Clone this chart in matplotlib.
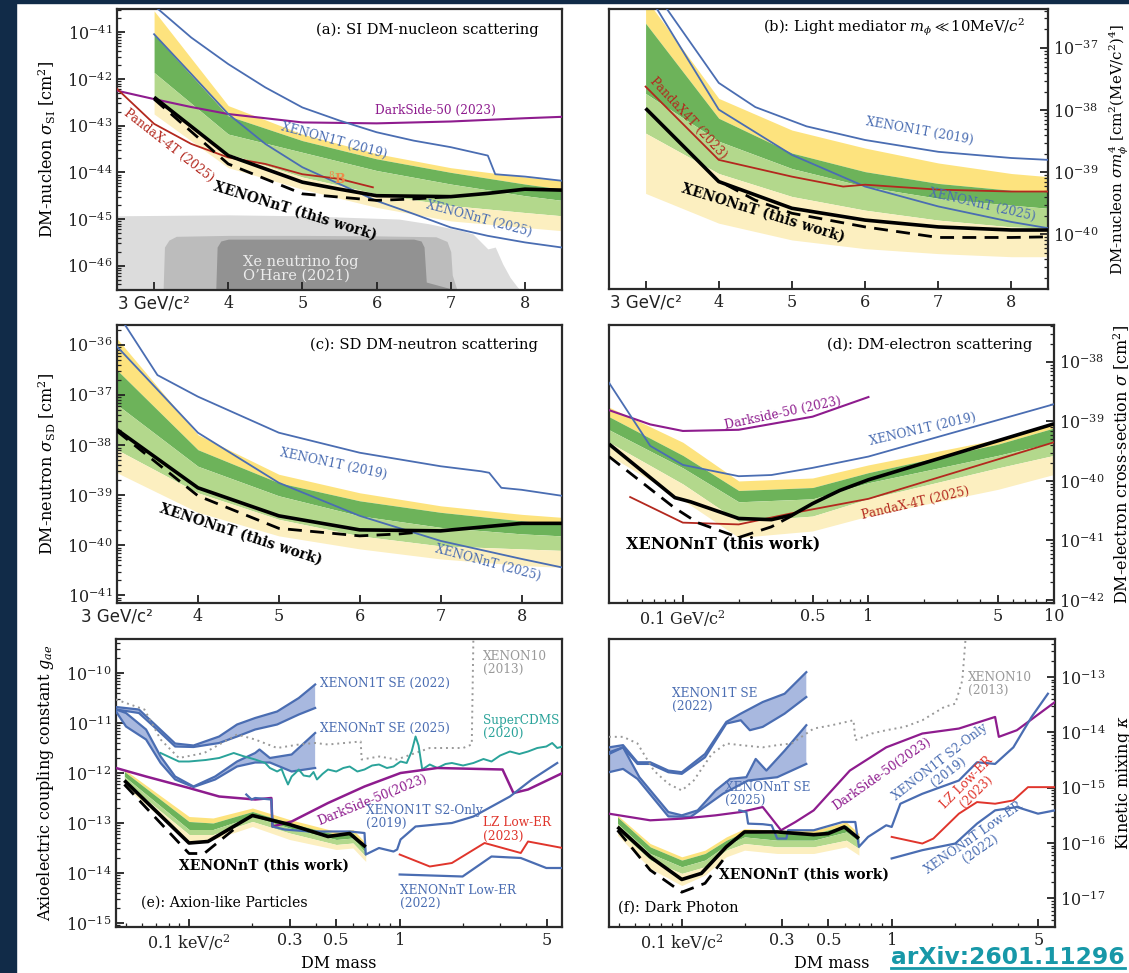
import numpy as np
import matplotlib
matplotlib.use("Agg")
import matplotlib.pyplot as plt
from matplotlib.patches import Rectangle
from matplotlib.lines import Line2D
from matplotlib.ticker import LogLocator, FixedLocator, FixedFormatter, NullFormatter, NullLocator

plt.rcParams['font.family'] = 'DejaVu Serif'
plt.rcParams['mathtext.fontset'] = 'dejavuserif'

# ======================= DATA (y values are log10) =======================
# ---- (a) SI DM-nucleon scattering, mass in GeV/c^2, log10 sigma [cm^2]
a_band_mass = [3, 4, 5, 6, 7, 8, 8.5]
a_p2 = [-40.54, -42.57, -43.18, -43.60, -43.90, -44.10, -44.18]
a_p1 = [-41.05, -42.79, -43.32, -43.71, -44.00, -44.25, -44.36]
a_med = [-41.86, -43.18, -43.57, -43.96, -44.25, -44.50, -44.60]
a_m1 = [-42.46, -43.60, -44.10, -44.46, -44.71, -44.86, -44.93]
a_m2 = [-42.75, -43.90, -44.36, -44.75, -45.04, -45.18, -45.25]
a_nt_mass = [3, 4, 5, 5.5, 6, 7, 7.5, 8, 8.5]
a_nt_limit = [-42.39, -43.64, -44.21, -44.36, -44.50, -44.52, -44.45, -44.36, -44.38]
a_sens_mass = [3, 4, 5, 6, 6.5, 7]
a_sens = [-42.43, -43.82, -44.46, -44.60, -44.57, -44.52]
a_x1t_mass = [2.98, 3.5, 4, 4.5, 5, 5.5, 6, 6.5, 7, 7.5, 7.6, 8, 8.5]
a_x1t = [-40.4, -41.11, -41.68, -42.18, -42.61, -42.89, -43.14, -43.32, -43.46, -43.64, -44.04, -44.09, -44.18]
a_xnt25_mass = [3, 3.5, 4, 4.5, 5, 5.5, 6, 6.5, 7, 7.5, 8, 8.5]
a_xnt25 = [-41.04, -41.89, -42.75, -43.39, -43.89, -44.25, -44.61, -44.89, -45.18, -45.36, -45.50, -45.61]
a_ds50_mass = [2.5, 3, 3.5, 4, 5, 6, 7, 8, 8.5]
a_ds50 = [-42.25, -42.43, -42.60, -42.75, -42.93, -42.95, -42.91, -42.84, -42.81]
a_px4t_mass = [2.5, 3, 3.5, 4, 4.5, 5, 5.5, 5.95]
a_px4t = [-42.21, -42.96, -43.39, -43.68, -43.82, -44.04, -44.14, -44.32]
a_fog1_mass = [2.5, 4, 5, 6.3, 6.7, 7.15, 7.3, 7.5, 7.6, 7.7, 7.8, 7.9, 8.0]
a_fog1 = [-44.93, -44.91, -44.93, -45.0, -45.1, -45.25, -45.32, -45.64, -45.6, -45.96, -46.25, -46.46, -46.6]
a_fog2_mass = [3.12, 3.14, 3.2, 3.3, 4, 5, 6, 6.8, 6.95, 7.0, 7.02, 7.1]
a_fog2 = [-46.6, -45.6, -45.45, -45.37, -45.35, -45.35, -45.36, -45.38, -45.48, -45.7, -46.2, -46.6]
a_fog3_mass = [3.83, 3.85, 3.9, 4.0, 6.5, 6.6, 6.64, 6.67, 7.25]
a_fog3 = [-46.6, -45.6, -45.47, -45.43, -45.43, -45.47, -45.6, -46.35, -46.6]

# ---- (b) light mediator
b_band_mass = [3, 4, 5, 6, 7, 8, 8.5]
b_p2 = [-36.2, -37.81, -38.32, -38.61, -38.85, -39.02, -39.07]
b_p1 = [-36.6, -38.13, -38.69, -38.99, -39.18, -39.29, -39.31]
b_med = [-37.73, -38.50, -38.94, -39.23, -39.42, -39.53, -39.58]
b_m1 = [-38.37, -39.02, -39.39, -39.61, -39.77, -39.88, -39.90]
b_m2 = [-39.34, -39.82, -40.09, -40.23, -40.31, -40.36, -40.36]
b_nt_mass = [3, 4, 5, 6, 7, 8, 8.5]
b_nt_limit = [-37.97, -39.15, -39.58, -39.77, -39.88, -39.93, -39.93]
b_sens_mass = [4.1, 4.5, 5, 6, 7, 8, 8.5]
b_sens = [-39.2, -39.45, -39.66, -39.88, -40.05, -40.05, -40.04]
b_x1t_mass = [3.25, 4, 4.5, 5.2, 6, 7, 8, 8.5]
b_x1t = [-36.3, -37.56, -37.95, -38.26, -38.48, -38.67, -38.77, -38.80]
b_xnt25_mass = [3.12, 4, 5, 6, 7, 8, 8.5]
b_xnt25 = [-36.3, -37.99, -38.72, -39.23, -39.55, -39.80, -39.90]
b_px4t_mass = [3, 4, 5, 5.7, 6, 7, 8, 8.5]
b_px4t = [-37.62, -38.80, -39.07, -39.23, -39.20, -39.28, -39.31, -39.31]

# ---- (c) SD DM-neutron
c_band_mass = [3, 4, 5, 6, 7, 8, 8.5]
c_p2 = [-35.87, -37.79, -38.58, -38.95, -39.21, -39.38, -39.44]
c_p1 = [-36.50, -38.09, -38.75, -39.11, -39.34, -39.51, -39.58]
c_med = [-37.19, -38.42, -39.01, -39.41, -39.64, -39.77, -39.81]
c_m1 = [-38.09, -38.95, -39.48, -39.81, -40.01, -40.07, -40.10]
c_m2 = [-38.55, -39.34, -39.81, -40.07, -40.27, -40.40, -40.44]
c_nt_mass = [3, 4, 5, 6, 7, 8, 8.5]
c_nt_limit = [-37.69, -38.85, -39.41, -39.69, -39.71, -39.56, -39.56]
c_sens_mass = [3, 4, 5, 6, 6.5, 6.7]
c_sens = [-37.72, -39.01, -39.66, -39.81, -39.77, -39.74]
c_x1t_mass = [3.1, 3.5, 4, 5, 6, 7, 7.5, 7.6, 7.75, 8, 8.5]
c_x1t = [-35.6, -36.6, -37.03, -37.75, -38.15, -38.42, -38.52, -38.55, -38.85, -38.89, -39.01]
c_xnt25_mass = [3, 3.5, 4, 5, 6, 7, 8, 8.5]
c_xnt25 = [-36.03, -36.89, -37.75, -38.75, -39.41, -39.91, -40.27, -40.44]

# ---- (d) DM-electron scattering
d_band_mass = [0.04, 0.1, 0.2, 0.5, 1, 5, 10]
d_p2 = [-38.76, -39.35, -40.00, -39.95, -39.73, -39.30, -39.03]
d_p1 = [-38.92, -39.57, -40.16, -40.11, -39.86, -39.38, -39.11]
d_med = [-39.14, -39.78, -40.35, -40.30, -40.03, -39.57, -39.35]
d_m1 = [-39.35, -40.05, -40.68, -40.59, -40.30, -39.78, -39.57]
d_m2 = [-39.57, -40.32, -40.95, -40.84, -40.59, -40.14, -39.89]
d_nt_mass = [0.04, 0.0906, 0.11, 0.2, 0.3, 0.39, 0.5, 0.7, 1, 10]
d_nt_limit = [-39.38, -40.28, -40.35, -40.63, -40.65, -40.57, -40.38, -40.16, -39.98, -39.04]
d_sens_mass = [0.04, 0.09, 0.12, 0.2, 0.3, 0.39]
d_sens = [-39.59, -40.45, -40.70, -40.95, -40.77, -40.58]
d_x1t_mass = [0.04, 0.0667, 0.1, 0.2, 0.3, 0.5, 1, 10]
d_x1t = [-38.35, -39.41, -39.73, -39.92, -39.90, -39.78, -39.59, -38.71]
d_ds50_mass = [0.04, 0.0667, 0.1, 0.2, 0.5, 1]
d_ds50 = [-38.81, -39.05, -39.16, -39.14, -38.92, -38.59]
d_px4t_mass = [0.052, 0.1, 0.2, 0.39, 1, 10]
d_px4t = [-40.27, -40.70, -40.73, -40.54, -40.30, -39.35]

# ---- (e) axion-like particles, mass in keV/c^2, log10 g_ae
e_band_mass = [0.0493, 0.1, 0.13, 0.2, 0.3, 0.5, 0.6, 0.69]
e_p2 = [-11.93, -12.87, -12.90, -12.70, -12.93, -13.17, -13.13, -13.40]
e_p1 = [-11.97, -12.97, -13.00, -12.77, -13.00, -13.23, -13.20, -13.50]
e_med = [-12.07, -13.13, -13.13, -12.87, -13.10, -13.33, -13.30, -13.60]
e_m1 = [-12.17, -13.23, -13.23, -12.97, -13.20, -13.43, -13.40, -13.67]
e_m2 = [-12.27, -13.37, -13.33, -13.07, -13.33, -13.53, -13.50, -13.77]
e_nt_mass = [0.0493, 0.1, 0.123, 0.2, 0.3, 0.457, 0.579, 0.69]
e_nt_limit = [-12.15, -13.40, -13.37, -12.85, -13.03, -13.27, -13.21, -13.48]
e_sens_mass = [0.0493, 0.1, 0.118, 0.163]
e_sens = [-12.23, -13.61, -13.61, -13.13]
e_se1t_mass = [0.045, 0.0578, 0.0705, 0.0859, 0.105, 0.139, 0.169, 0.206, 0.262, 0.332, 0.397]
e_se1t_hi = [-10.68, -10.73, -11.07, -11.41, -11.45, -11.27, -11.03, -10.90, -10.77, -10.50, -10.23]
e_se1t_lo = [-10.73, -10.80, -11.13, -11.47, -11.48, -11.40, -11.27, -11.13, -11.03, -10.83, -10.70]
e_sent_hi_mass = [0.045, 0.0502, 0.0625, 0.0733, 0.0859, 0.105, 0.133, 0.169, 0.206, 0.216, 0.242, 0.307, 0.397]
e_sent_hi = [-10.73, -10.80, -11.13, -11.67, -12.07, -12.27, -12.07, -11.77, -11.60, -11.53, -11.70, -11.63, -11.20]
e_sent_lo_mass = [0.045, 0.0502, 0.0625, 0.0733, 0.0859, 0.105, 0.133, 0.169, 0.206, 0.242, 0.307, 0.397]
e_sent_lo = [-10.77, -11.07, -11.33, -11.80, -12.13, -12.28, -12.13, -11.87, -11.79, -11.79, -11.97, -11.90]
e_xe10_mass = [0.045, 0.0614, 0.0733, 0.0895, 0.118, 0.169, 0.206, 0.262, 0.332, 0.397, 0.457, 0.653, 0.66, 0.8, 0.97, 1.39, 2.0, 2.2, 2.24]
e_xe10 = [-10.53, -10.73, -11.33, -11.70, -11.60, -11.23, -11.33, -11.50, -11.43, -11.40, -11.43, -11.37, -11.73, -11.67, -11.73, -11.50, -11.50, -11.43, -9.27]
e_cdms_mass = [0.0733, 0.0895, 0.1, 0.12, 0.139, 0.163, 0.18, 0.206, 0.23, 0.242, 0.262, 0.275, 0.284, 0.295, 0.307, 0.32, 0.332, 0.35, 0.374, 0.39, 0.405, 0.43, 0.457, 0.5, 0.54, 0.579, 0.63, 0.681, 0.74, 0.798, 0.87, 0.935, 1.01, 1.08, 1.14, 1.19, 1.23, 1.28, 1.39, 1.51, 1.65, 1.77, 2.0, 2.24, 2.5, 2.73, 3.0, 3.34, 3.7, 4.07, 4.5, 4.97, 5.3, 5.6, 5.94]
e_cdms = [-11.60, -11.77, -11.77, -11.74, -11.70, -11.60, -11.66, -11.73, -11.80, -11.90, -11.97, -11.92, -12.07, -12.23, -12.07, -12.00, -11.93, -12.05, -12.07, -11.98, -12.13, -12.02, -11.93, -11.97, -11.90, -11.87, -11.97, -11.93, -11.85, -11.83, -11.90, -11.87, -11.77, -11.80, -11.57, -11.27, -11.45, -11.93, -11.83, -11.90, -11.82, -11.80, -11.85, -11.80, -11.72, -11.77, -11.65, -11.57, -11.62, -11.57, -11.50, -11.47, -11.40, -11.50, -11.47]
e_ds50_mass = [0.045, 0.0625, 0.1, 0.139, 0.206, 0.246, 0.249, 0.307, 0.457, 0.681, 1.01, 1.51, 3.08, 3.47, 4.07, 5.94]
e_ds50 = [-11.90, -12.07, -12.30, -12.47, -12.53, -12.50, -13.07, -12.97, -12.60, -12.27, -12.00, -11.90, -11.93, -12.40, -12.33, -12.00]
e_s2_mass = [0.187, 0.198, 0.206, 0.246, 0.249, 0.284, 0.374, 0.579, 0.681, 0.69, 0.798, 0.935, 0.973, 1.01, 1.19, 1.77, 2.24, 3.34, 4.24, 5.6]
e_s2 = [-12.43, -12.53, -12.50, -12.53, -13.07, -13.13, -13.17, -13.17, -13.20, -13.63, -13.50, -13.57, -13.53, -13.33, -13.07, -13.00, -12.87, -12.47, -12.13, -11.80]
e_lz_mass = [1.0, 1.39, 1.77, 2.53, 3.76, 4.07, 5.94]
e_lz = [-13.63, -13.87, -13.80, -13.40, -13.60, -13.37, -13.50]
e_lower_mass = [1.0, 1.99, 2.73, 3.76, 4.97, 5.94]
e_lower = [-14.03, -14.07, -13.67, -13.70, -13.90, -13.90]

# ---- (f) dark photon, mass in keV/c^2, log10 kappa
f_band_mass = [0.0494, 0.0707, 0.1, 0.129, 0.163, 0.199, 0.285, 0.425, 0.608, 0.698]
f_p2 = [-15.50, -16.01, -16.25, -16.13, -15.89, -15.74, -15.77, -15.77, -15.62, -15.83]
f_p1 = [-15.53, -16.07, -16.31, -16.19, -15.95, -15.80, -15.83, -15.83, -15.68, -15.89]
f_med = [-15.65, -16.19, -16.43, -16.31, -16.04, -15.89, -15.95, -15.95, -15.80, -15.98]
f_m1 = [-15.77, -16.31, -16.55, -16.43, -16.13, -16.01, -16.07, -16.07, -15.95, -16.10]
f_m2 = [-15.86, -16.46, -16.77, -16.58, -16.25, -16.13, -16.19, -16.19, -16.07, -16.22]
f_nt_mass = [0.0494, 0.0707, 0.1, 0.124, 0.163, 0.199, 0.285, 0.425, 0.498, 0.595, 0.698]
f_nt_limit = [-15.71, -16.25, -16.66, -16.55, -16.07, -15.80, -15.80, -15.85, -15.83, -15.71, -15.92]
f_sens_mass = [0.0494, 0.0707, 0.1, 0.129, 0.157]
f_sens = [-15.77, -16.49, -16.89, -16.73, -16.31]
f_se1t_hi_mass = [0.045, 0.0525, 0.0615, 0.0707, 0.0863, 0.1, 0.129, 0.163, 0.191, 0.243, 0.309, 0.392]
f_se1t_hi = [-14.27, -14.23, -14.54, -14.54, -14.69, -14.72, -14.39, -13.81, -13.66, -13.45, -13.30, -12.91]
f_se1t_lo_mass = [0.045, 0.0525, 0.0615, 0.0707, 0.0863, 0.1, 0.129, 0.163, 0.191, 0.211, 0.243, 0.309, 0.392]
f_se1t_lo = [-14.39, -14.27, -14.57, -14.57, -14.72, -14.75, -14.45, -13.84, -13.78, -13.96, -13.90, -13.66, -13.36]
f_sent_hi_mass = [0.045, 0.0525, 0.0628, 0.0863, 0.1, 0.119, 0.145, 0.17, 0.203, 0.225, 0.253, 0.309, 0.392]
f_sent_hi = [-14.36, -14.27, -14.81, -15.44, -15.50, -15.41, -15.05, -14.84, -14.81, -14.48, -14.69, -14.33, -13.87]
f_sent_lo_mass = [0.045, 0.0525, 0.0615, 0.0863, 0.11, 0.157, 0.207, 0.285, 0.392]
f_sent_lo = [-14.72, -14.66, -14.84, -15.52, -15.53, -15.11, -14.87, -14.81, -14.57]
f_xe10_mass = [0.045, 0.0525, 0.0615, 0.0736, 0.0863, 0.1, 0.114, 0.139, 0.163, 0.191, 0.243, 0.285, 0.334, 0.425, 0.518, 0.658, 0.671, 0.804, 0.942, 1.15, 1.40, 1.78, 2.01, 2.17, 2.26]
f_xe10 = [-14.08, -14.08, -14.20, -14.69, -14.93, -15.05, -14.87, -14.39, -14.20, -14.23, -14.27, -14.23, -14.20, -13.93, -13.87, -13.78, -14.14, -14.02, -13.96, -13.90, -13.78, -13.54, -13.48, -13.06, -12.20]
f_ds50_mass = [0.045, 0.0707, 0.1, 0.145, 0.191, 0.243, 0.297, 0.348, 0.425, 0.632, 0.942, 1.40, 2.09, 3.11, 3.24, 3.95, 6.0]
f_ds50 = [-15.47, -15.59, -15.56, -15.50, -15.44, -15.35, -15.77, -15.62, -15.41, -14.69, -14.27, -14.02, -13.93, -13.72, -14.08, -13.96, -13.45]
f_s2_mass = [0.188, 0.203, 0.207, 0.243, 0.268, 0.285, 0.315, 0.321, 0.425, 0.584, 0.671, 0.698, 0.772, 0.942, 1.0, 1.10, 1.40, 2.09, 2.55, 3.11, 3.80, 4.64, 5.55]
f_s2 = [-15.41, -15.44, -15.65, -15.66, -15.68, -15.92, -15.92, -15.77, -15.77, -15.62, -15.62, -16.07, -15.89, -15.68, -15.71, -15.29, -15.11, -14.87, -14.54, -14.57, -14.27, -13.72, -13.30]
f_lz_mass = [1.0, 1.40, 1.58, 2.09, 2.55, 3.11, 3.80, 4.46, 6.0]
f_lz = [-15.89, -16.01, -15.92, -15.47, -15.26, -15.29, -15.23, -14.99, -14.99]
f_lower_mass = [1.0, 1.40, 2.01, 2.55, 3.11, 3.95, 4.98, 6.0]
f_lower = [-16.28, -16.13, -16.01, -15.65, -15.41, -15.35, -15.47, -15.41]

# ======================= STYLE =======================
YEL, DGRN, LGRN, PYEL = '#fde37e', '#6db35a', '#b3d88c', '#fcefc0'
BLUE, PURPLE, PRED, LZRED = '#4a6db2', '#8e1c8e', '#b3281e', '#e0352c'
TEAL, XE10C, SEFILL = '#2aa39a', '#999999', '#a8b8df'
SPINE = '#2a2a2a'
TICK_FS, YL, TITLE_FS, LAB_FS, BOLD_FS = 11.5, 11.5, 10.6, 8.7, 10.0

W, H = 1129, 973
fig = plt.figure(figsize=(W / 100, H / 100), dpi=100)
fig.patches.append(Rectangle((0, 0), 16 / W, 1, transform=fig.transFigure, color='#112b48', zorder=-5))
fig.patches.append(Rectangle((0, 1 - 3 / H), 1, 3 / H, transform=fig.transFigure, color='#112b48', zorder=-5))


def P(a):
    return 10.0 ** np.asarray(a, dtype=float)


def add_ax(l, r, t, b):
    return fig.add_axes([l / W, 1 - b / H, (r - l) / W, (b - t) / H])


def style(ax, right=False):
    for s in ax.spines.values():
        s.set_linewidth(1.6)
        s.set_color(SPINE)
    ax.set_yscale('log')
    ax.tick_params(which='both', direction='in', labelsize=TICK_FS, colors='#222222')
    ax.tick_params(which='major', length=6, width=1.3)
    ax.tick_params(which='minor', length=3, width=0.9)
    ax.yaxis.set_major_locator(LogLocator(base=10, numticks=40))
    ax.yaxis.set_minor_locator(LogLocator(base=10, subs=np.arange(2, 10), numticks=40))
    ax.yaxis.set_minor_formatter(NullFormatter())
    if right:
        ax.yaxis.tick_right()
        ax.yaxis.set_label_position('right')


def gev_axis(ax, left_lim):
    ax.set_xlim(left_lim, 8.5)
    ax.set_xticks([3, 4, 5, 6, 7, 8])
    labs = ax.set_xticklabels(['3 GeV/c²', '4', '5', '6', '7', '8'])
    labs[0].set_fontfamily('DejaVu Sans')
    labs[0].set_fontsize(12)
    ax.xaxis.set_minor_locator(NullLocator())


def log_xaxis(ax, lim, majors, labels, minors):
    ax.set_xscale('log')
    ax.set_xlim(*lim)
    ax.xaxis.set_major_locator(FixedLocator(majors))
    ax.xaxis.set_major_formatter(FixedFormatter(labels))
    ax.xaxis.set_minor_locator(FixedLocator(minors))
    ax.xaxis.set_minor_formatter(NullFormatter())


def bands(ax, x, p2, p1, med, m1, m2):
    ax.fill_between(x, P(p1), P(p2), color=YEL, lw=0, zorder=1)
    ax.fill_between(x, P(med), P(p1), color=DGRN, lw=0, zorder=1)
    ax.fill_between(x, P(m1), P(med), color=LGRN, lw=0, zorder=1)
    ax.fill_between(x, P(m2), P(m1), color=PYEL, lw=0, zorder=1)


def result(ax, xm, y, xs, ys):
    ax.plot(xm, P(y), color='black', lw=2.6, zorder=5, solid_capstyle='butt')
    ax.plot(xs, P(ys), color='black', lw=2.0, ls=(0, (5, 3)), zorder=5)


def rtext(ax, x, y, s, rot, color, size=LAB_FS, bold=False, ha='center'):
    ax.text(x, P(y), s, rotation=rot, color=color, fontsize=size, ha=ha, va='center',
            rotation_mode='anchor', fontweight='bold' if bold else 'normal', zorder=8,
            linespacing=1.0)


def band_fill(ax, xh, yh, xl, yl, color=BLUE, lw=1.6):
    xs = list(xh) + list(xl)[::-1]
    ys = list(P(yh)) + list(P(yl))[::-1]
    ax.fill(xs, ys, color=SEFILL, lw=0, zorder=2)
    ax.plot(xh, P(yh), color=color, lw=lw, zorder=3)
    ax.plot(xl, P(yl), color=color, lw=lw, zorder=3)


# ======================= (a) =======================
axA = add_ax(117, 562, 9, 290)
style(axA)
gev_axis(axA, 2.5)
axA.set_ylim(P(-46.52), P(-40.5))
bot = P(-46.6)
axA.fill_between(a_fog1_mass, bot, P(a_fog1), color='#dcdcdc', lw=0, zorder=0.5)
axA.fill_between(a_fog2_mass, bot, P(a_fog2), color='#bcbcbc', lw=0, zorder=0.6)
axA.fill_between(a_fog3_mass, bot, P(a_fog3), color='#929292', lw=0, zorder=0.7)
axA.text(4.2, P(-46.07), "Xe neutrino fog\nO’Hare (2021)", color='#ececec', fontsize=10.5,
         ha='left', va='center', linespacing=0.95, zorder=2)
bands(axA, a_band_mass, a_p2, a_p1, a_med, a_m1, a_m2)
axA.plot(a_ds50_mass, P(a_ds50), color=PURPLE, lw=1.5, zorder=3)
axA.plot(a_x1t_mass, P(a_x1t), color=BLUE, lw=1.3, zorder=3)
axA.plot(a_xnt25_mass, P(a_xnt25), color=BLUE, lw=1.3, zorder=3)
axA.plot(a_px4t_mass, P(a_px4t), color=PRED, lw=1.3, zorder=3)
result(axA, a_nt_mass, a_nt_limit, a_sens_mass, a_sens)
axA.text(5.47, P(-44.15), '$^{8}$B', color='#ee8a4a', fontsize=9, fontweight='bold', ha='center', va='center', zorder=6)
axA.text(0.947, 0.925, '(a): SI DM-nucleon scattering', transform=axA.transAxes, ha='right', va='center', fontsize=TITLE_FS)
rtext(axA, 6.8, -42.68, 'DarkSide-50 (2023)', 0, PURPLE)
rtext(axA, 5.43, -43.32, 'XENON1T (2019)', -15, BLUE)
rtext(axA, 3.2, -43.43, 'PandaX-4T (2025)', -38, PRED)
rtext(axA, 4.9, -44.82, 'XENONnT (this work)', -17, 'black', size=BOLD_FS, bold=True)
rtext(axA, 7.38, -45.0, 'XENONnT (2025)', -15, BLUE)
axA.set_ylabel('DM-nucleon $\\sigma_{\\rm SI}$ [cm$^2$]', fontsize=YL)
axA.yaxis.set_label_coords(-0.133, 0.5)

# ======================= (b) =======================
axB = add_ax(609, 1048, 9, 289)
style(axB, right=True)
gev_axis(axB, 2.5)
axB.set_ylim(P(-40.88), P(-36.37))
bands(axB, b_band_mass, b_p2, b_p1, b_med, b_m1, b_m2)
axB.plot(b_x1t_mass, P(b_x1t), color=BLUE, lw=1.3, zorder=3)
axB.plot(b_xnt25_mass, P(b_xnt25), color=BLUE, lw=1.3, zorder=3)
axB.plot(b_px4t_mass, P(b_px4t), color=PRED, lw=1.3, zorder=3)
result(axB, b_nt_mass, b_nt_limit, b_sens_mass, b_sens)
axB.text(0.948, 0.936, '(b): Light mediator $m_\\phi \\ll 10$MeV/$c^2$', transform=axB.transAxes,
         ha='right', va='center', fontsize=TITLE_FS)
rtext(axB, 6.74, -38.34, 'XENON1T (2019)', -10, BLUE)
rtext(axB, 7.6, -39.53, 'XENONnT (2025)', -13, BLUE)
rtext(axB, 3.58, -38.13, 'PandaX4T (2023)', -47, PRED)
rtext(axB, 4.6, -39.66, 'XENONnT (this work)', -17, 'black', size=BOLD_FS, bold=True)
axB.set_ylabel('DM-nucleon $\\sigma m_\\phi^4$ [cm$^2$(MeV/c$^2$)$^4$]', fontsize=10.8)
axB.yaxis.set_label_coords(1.137, 0.5)

# ======================= (c) =======================
axC = add_ax(117, 562, 325, 603)
style(axC)
gev_axis(axC, 3.0)
axC.set_ylim(P(-41.15), P(-35.6))
bands(axC, c_band_mass, c_p2, c_p1, c_med, c_m1, c_m2)
axC.plot(c_x1t_mass, P(c_x1t), color=BLUE, lw=1.3, zorder=3)
axC.plot(c_xnt25_mass, P(c_xnt25), color=BLUE, lw=1.3, zorder=3)
result(axC, c_nt_mass, c_nt_limit, c_sens_mass, c_sens)
axC.text(0.946, 0.928, '(c): SD DM-neutron scattering', transform=axC.transAxes, ha='right', va='center', fontsize=TITLE_FS)
rtext(axC, 5.67, -38.38, 'XENON1T (2019)', -12, BLUE)
rtext(axC, 4.53, -39.77, 'XENONnT (this work)', -18, 'black', size=BOLD_FS, bold=True)
rtext(axC, 7.58, -40.34, 'XENONnT (2025)', -15, BLUE)
axC.set_ylabel('DM-neutron $\\sigma_{\\rm SD}$ [cm$^2$]', fontsize=YL)
axC.yaxis.set_label_coords(-0.133, 0.5)

# ======================= (d) =======================
axD = add_ax(609, 1054, 325, 603)
style(axD, right=True)
log_xaxis(axD, (0.04, 10), [0.1, 0.5, 1, 5, 10], ['0.1 GeV/c$^2$', '0.5', '1', '5', '10'],
          [0.05, 0.06, 0.07, 0.08, 0.09, 0.2, 0.3, 0.4, 0.6, 0.7, 0.8, 0.9, 2, 3, 4, 6, 7, 8, 9])
axD.set_ylim(P(-42.05), P(-37.38))
bands(axD, d_band_mass, d_p2, d_p1, d_med, d_m1, d_m2)
axD.plot(d_ds50_mass, P(d_ds50), color=PURPLE, lw=1.5, zorder=3)
axD.plot(d_x1t_mass, P(d_x1t), color=BLUE, lw=1.3, zorder=3)
axD.plot(d_px4t_mass, P(d_px4t), color=PRED, lw=1.3, zorder=3)
result(axD, d_nt_mass, d_nt_limit, d_sens_mass, d_sens)
axD.text(0.951, 0.93, '(d): DM-electron scattering', transform=axD.transAxes, ha='right', va='center', fontsize=TITLE_FS)
rtext(axD, 0.346, -38.86, 'Darkside-50 (2023)', 12, PURPLE)
rtext(axD, 1.97, -39.14, 'XENON1T (2019)', 13, BLUE)
rtext(axD, 1.79, -40.38, 'PandaX-4T (2025)', 13, PRED)
rtext(axD, 0.0497, -41.05, 'XENONnT (this work)', 0, 'black', size=11.4, bold=True, ha='left')
axD.set_ylabel('DM-electron cross-section $\\sigma$ [cm$^2$]', fontsize=YL)
axD.yaxis.set_label_coords(1.13, 0.5)

# ======================= (e) =======================
axE = add_ax(116, 562, 639, 927)
style(axE)
log_xaxis(axE, (0.045, 5.9), [0.1, 0.3, 0.5, 1, 5], ['0.1 keV/c$^2$', '0.3', '0.5', '1', '5'],
          [0.05, 0.06, 0.07, 0.08, 0.09, 0.2, 0.4, 0.6, 0.7, 0.8, 0.9, 2, 3, 4])
axE.set_ylim(P(-15.08), P(-9.32))
bands(axE, e_band_mass, e_p2, e_p1, e_med, e_m1, e_m2)
band_fill(axE, e_se1t_mass, e_se1t_hi, e_se1t_mass, e_se1t_lo)
band_fill(axE, e_sent_hi_mass, e_sent_hi, e_sent_lo_mass, e_sent_lo)
axE.plot(e_xe10_mass, P(e_xe10), color=XE10C, lw=1.4, ls=(0, (1, 2)), zorder=3)
axE.plot(e_cdms_mass, P(e_cdms), color=TEAL, lw=1.4, zorder=3)
axE.plot(e_ds50_mass, P(e_ds50), color=PURPLE, lw=1.8, zorder=3)
axE.plot(e_s2_mass, P(e_s2), color=BLUE, lw=1.6, zorder=3)
axE.plot(e_lz_mass, P(e_lz), color=LZRED, lw=1.4, zorder=3)
axE.plot(e_lower_mass, P(e_lower), color=BLUE, lw=1.6, zorder=3)
result(axE, e_nt_mass, e_nt_limit, e_sens_mass, e_sens)
axE.text(0.056, 0.083, '(e): Axion-like Particles', transform=axE.transAxes, ha='left', va='center', fontsize=10.2)
rtext(axE, 0.42, -10.21, 'XENON1T SE (2022)', 0, BLUE, ha='left')
rtext(axE, 0.42, -11.10, 'XENONnT SE (2025)', 0, BLUE, ha='left')
rtext(axE, 2.48, -9.80, 'XENON10\n(2013)', 0, XE10C, ha='left')
rtext(axE, 2.48, -11.08, 'SuperCDMS\n(2020)', 0, TEAL, ha='left')
rtext(axE, 0.74, -12.53, 'DarkSide-50(2023)', 22, PURPLE)
rtext(axE, 0.69, -12.88, 'XENON1T S2-Only\n(2019)', 0, BLUE, ha='left')
rtext(axE, 2.48, -13.13, 'LZ Low-ER\n(2023)', 0, LZRED, ha='left')
rtext(axE, 1.0, -14.47, 'XENONnT Low-ER\n(2022)', 0, BLUE, ha='left')
rtext(axE, 0.0895, -13.85, 'XENONnT (this work)', 0, 'black', size=BOLD_FS, bold=True, ha='left')
axE.set_ylabel('Axioelectric coupling constant $g_{ae}$', fontsize=YL)
axE.yaxis.set_label_coords(-0.135, 0.5)
axE.set_xlabel('DM mass', fontsize=YL, labelpad=2)

# ======================= (f) =======================
axF = add_ax(609, 1055, 639, 927)
style(axF, right=True)
log_xaxis(axF, (0.045, 6.0), [0.1, 0.3, 0.5, 1, 5], ['0.1 keV/c$^2$', '0.3', '0.5', '1', '5'],
          [0.05, 0.06, 0.07, 0.08, 0.09, 0.2, 0.4, 0.6, 0.7, 0.8, 0.9, 2, 3, 4])
axF.set_ylim(P(-17.52), P(-12.31))
bands(axF, f_band_mass, f_p2, f_p1, f_med, f_m1, f_m2)
band_fill(axF, f_se1t_hi_mass, f_se1t_hi, f_se1t_lo_mass, f_se1t_lo)
band_fill(axF, f_sent_hi_mass, f_sent_hi, f_sent_lo_mass, f_sent_lo)
axF.plot(f_xe10_mass, P(f_xe10), color=XE10C, lw=1.4, ls=(0, (1, 2)), zorder=3)
axF.plot(f_ds50_mass, P(f_ds50), color=PURPLE, lw=1.6, zorder=3)
axF.plot(f_s2_mass, P(f_s2), color=BLUE, lw=1.6, zorder=3)
axF.plot(f_lz_mass, P(f_lz), color=LZRED, lw=1.4, zorder=3)
axF.plot(f_lower_mass, P(f_lower), color=BLUE, lw=1.6, zorder=3)
result(axF, f_nt_mass, f_nt_limit, f_sens_mass, f_sens)
axF.text(0.02, 0.066, '(f): Dark Photon', transform=axF.transAxes, ha='left', va='center', fontsize=TITLE_FS)
rtext(axF, 0.09, -13.42, 'XENON1T SE\n(2022)', 0, BLUE, ha='left')
rtext(axF, 0.16, -15.11, 'XENONnT SE\n(2025)', 0, BLUE, ha='left')
rtext(axF, 2.31, -13.12, 'XENON10\n(2013)', 0, XE10C, ha='left')
rtext(axF, 0.905, -14.75, 'DarkSide-50(2023)', 35, PURPLE)
rtext(axF, 1.78, -14.63, 'XENON1T S2-Only\n(2019)', 38, BLUE)
rtext(axF, 2.40, -14.99, 'LZ Low-ER\n(2023)', 45, LZRED)
rtext(axF, 2.55, -16.01, 'XENONnT Low-ER\n(2022)', 35, BLUE)
rtext(axF, 0.15, -16.58, 'XENONnT (this work)', 0, 'black', size=BOLD_FS, bold=True, ha='left')
axF.set_ylabel('Kinetic mixing $\\kappa$', fontsize=YL)
axF.yaxis.set_label_coords(1.132, 0.5)
axF.set_xlabel('DM mass', fontsize=YL, labelpad=2)

# ======================= arXiv tag =======================
t = fig.text(1125 / W, 1 - 964 / H, 'arXiv:2601.11296', color='#1798a8', fontsize=16.8,
             fontweight='bold', family='DejaVu Sans', ha='right', va='baseline', zorder=20,
             bbox=dict(facecolor='white', edgecolor='none', pad=1.0))
fig.canvas.draw()
bb = t.get_window_extent()
fig.add_artist(Line2D([bb.x0 / W, bb.x1 / W], [1 - 968 / H, 1 - 968 / H], transform=fig.transFigure,
                      color='#1798a8', lw=2.0, zorder=21))

fig.savefig('out.png', dpi=100)
